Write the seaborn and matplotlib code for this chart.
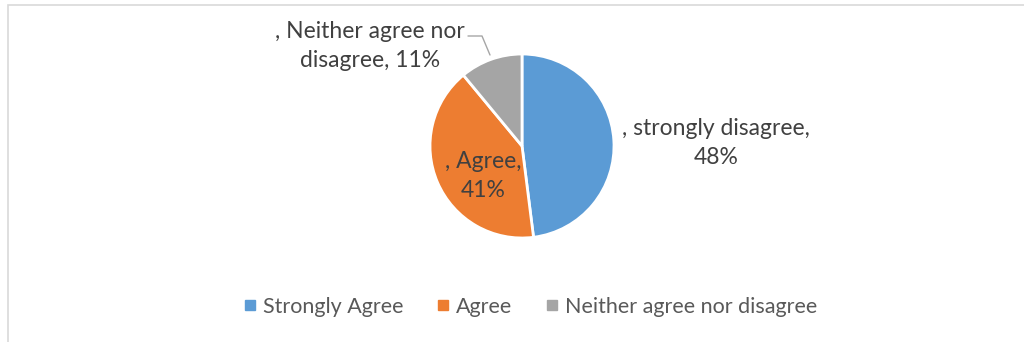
import matplotlib
matplotlib.use("Agg")
import matplotlib.pyplot as plt
import seaborn as sns
from matplotlib.patches import Rectangle

# Data
categories = ["Strongly Agree", "Agree", "Neither agree nor disagree"]
slice_labels = [", strongly disagree,\n48%", ", Agree,\n41%", ", Neither agree nor\ndisagree, 11%"]
shares = [48, 41, 11]
colors = ["#5B9BD5", "#ED7D31", "#A5A5A5"]

sns.set_theme(style="white")
plt.rcParams['font.family'] = ['Lato', 'DejaVu Sans']

W, H = 1024, 342
fig = plt.figure(figsize=(W / 100, H / 100), dpi=100)

# chart frame
fig.patches.append(Rectangle((8 / W, -0.1), 1.2, (H - 5) / H + 0.1, transform=fig.transFigure,
                             fill=False, edgecolor="#D9D9D9", linewidth=1.2))

# pie axes placed in pixel coordinates
cx, cy, r = 522, 146, 92
half = 200
ax = fig.add_axes([(cx - half) / W, (H - cy - half) / H, 2 * half / W, 2 * half / H])

wedges, _ = ax.pie(shares, colors=colors, startangle=90, counterclock=False, radius=r,
                   wedgeprops=dict(edgecolor="white", linewidth=2), center=(0, 0), frame=True)
ax.axis("off")
ax.set_xlim(-half, half)
ax.set_ylim(-half, half)

# data labels (pixel offsets from pie centre)
label_pos = [(716 - cx, cy - 143), (483 - cx, cy - 176), (370 - cx, cy - 46)]
for lab, (x, y) in zip(slice_labels, label_pos):
    ax.text(x, y, lab, ha="center", va="center", fontsize=16.5, color="#404040", linespacing=1.45)

# leader line for the small slice
ax.plot([468 - cx, 482 - cx, 490 - cx], [cy - 36, cy - 36, cy - 55], color="#A6A6A6", linewidth=1)

handles = [plt.Line2D([], [], marker="s", linestyle="", markersize=7, color=c) for c in colors]
fig.legend(handles, categories, loc="center", bbox_to_anchor=(530 / W, (H - 307) / H), ncol=3,
           frameon=False, fontsize=15.5, labelcolor="#595959", handletextpad=0.25,
           columnspacing=1.5, handlelength=0.7)

fig.savefig("out.png", dpi=100)
